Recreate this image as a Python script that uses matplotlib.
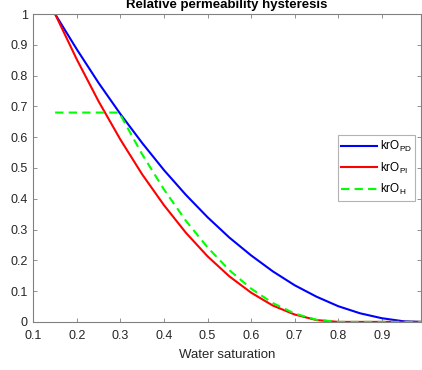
import matplotlib
matplotlib.use('Agg')
import matplotlib.pyplot as plt

# water saturation grid and the three relative permeability curves
sw = [0.15, 0.20, 0.25, 0.30, 0.35, 0.40, 0.45, 0.50, 0.55, 0.60,
      0.65, 0.70, 0.75, 0.80, 0.85, 0.90, 0.95, 0.99]
kro_pd = [1.0, 0.885, 0.776, 0.675, 0.581, 0.493, 0.413, 0.340, 0.274, 0.216,
          0.164, 0.119, 0.082, 0.051, 0.028, 0.012, 0.002, 0.0]
kro_pi = [1.0, 0.852, 0.716, 0.592, 0.479, 0.379, 0.290, 0.213, 0.148, 0.095,
          0.053, 0.024, 0.006, 0.0, 0.0, 0.0, 0.0, 0.0]
sw_h = [0.15, 0.20, 0.25, 0.297, 0.35, 0.40, 0.45, 0.50, 0.55, 0.60,
        0.65, 0.70, 0.75, 0.80, 0.85, 0.90, 0.95, 0.99]
kro_h = [0.68, 0.68, 0.68, 0.68, 0.544, 0.430, 0.329, 0.242, 0.168, 0.108,
         0.061, 0.027, 0.007, 0.0, 0.0, 0.0, 0.0, 0.0]

xticks = [0.1, 0.2, 0.3, 0.4, 0.5, 0.6, 0.7, 0.8, 0.9]
yticks = [0, 0.1, 0.2, 0.3, 0.4, 0.5, 0.6, 0.7, 0.8, 0.9, 1]

plt.rcParams['font.family'] = ['Liberation Sans', 'DejaVu Sans']
plt.rcParams['mathtext.fontset'] = 'custom'
plt.rcParams['mathtext.rm'] = 'Liberation Sans'

fig = plt.figure(figsize=(4.22, 3.70), dpi=100)
ax = fig.add_axes([0.079, 0.13, 0.9186, 0.832])

ax.plot(sw, kro_pd, color='#0000ff', lw=1.5, label=r'krO$_\mathregular{PD}$')
ax.plot(sw, kro_pi, color='#ff0000', lw=1.5, label=r'krO$_\mathregular{PI}$')
ax.plot(sw_h, kro_h, color='#00ff00', lw=1.5, dashes=(4, 2.5), label=r'krO$_\mathregular{H}$')

ax.set_xlim(0.1, 0.99)
ax.set_ylim(0, 1)
ax.set_xticks(xticks)
ax.set_xticklabels([f'{t:g}' for t in xticks])
ax.set_yticks(yticks)
ax.set_yticklabels([f'{t:g}' for t in yticks])

gray = '#262626'
for s in ax.spines.values():
    s.set_color('#808080')
    s.set_linewidth(0.8)
ax.tick_params(direction='in', length=3, width=0.6, color='#808080',
               labelcolor=gray, labelsize=9, top=True, right=True)
ax.tick_params(axis='x', pad=6)
ax.tick_params(axis='y', pad=4)

ax.set_xlabel('Water saturation', fontsize=9.5, color=gray, labelpad=5)
ax.set_title('Relative permeability hysteresis', fontsize=9.5, fontweight='bold', pad=4.5)

leg = ax.legend(loc='center right', bbox_to_anchor=(0.985, 0.50), fontsize=8.5,
                frameon=True, fancybox=False, handlelength=3.0, borderpad=0.3,
                labelspacing=0.55, handletextpad=0.25, borderaxespad=0)
leg.get_frame().set_edgecolor('#a0a0a0')
leg.get_frame().set_linewidth(0.8)

fig.savefig('out.png', dpi=100)
